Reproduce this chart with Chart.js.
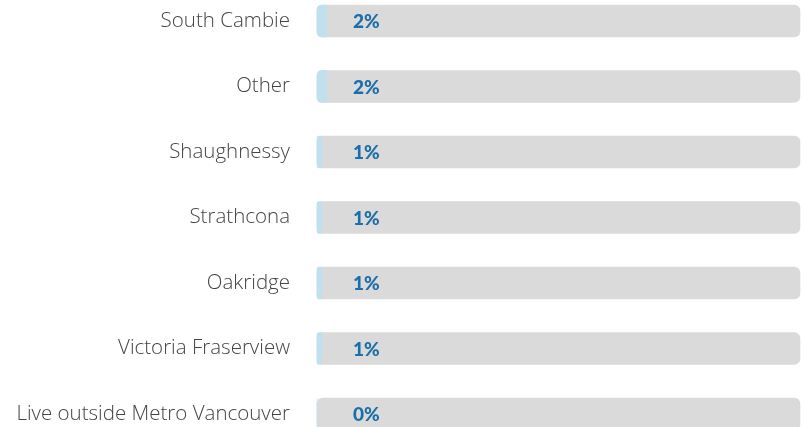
<!DOCTYPE html>
<html>
<head>
<meta charset="utf-8">
<script src="https://cdn.jsdelivr.net/npm/chart.js@4/dist/chart.umd.min.js"></script>
<style>
  body { margin: 0; background: #fff; }
</style>
</head>
<body>
<canvas id="myChart" width="804" height="427"></canvas>
<script>
// neighbourhood shares (percent)
const labels = ['South Cambie', 'Other', 'Shaughnessy', 'Strathcona', 'Oakridge', 'Victoria Fraserview', 'Live outside Metro Vancouver'];
const values = [2, 2, 1, 1, 1, 1, 0];
const valueLabels = ['2%', '2%', '1%', '1%', '1%', '1%', '0%'];
const track = [100, 100, 100, 100, 100, 100, 100];

const valueText = {
  id: 'valueText',
  afterDatasetsDraw(chart) {
    const ctx = chart.ctx;
    const meta = chart.getDatasetMeta(0);
    ctx.save();
    ctx.font = '900 19px Lato, "Open Sans", sans-serif';
    ctx.fillStyle = '#1a6ea9';
    ctx.textBaseline = 'middle';
    ctx.textAlign = 'left';
    meta.data.forEach((bar, i) => {
      ctx.fillText(valueLabels[i], chart.chartArea.left + 36, bar.y + 1);
    });
    ctx.restore();
  }
};

const myChart = new Chart(document.getElementById('myChart'), {
  type: 'bar',
  data: {
    labels: labels,
    datasets: [
      {
        data: values,
        backgroundColor: '#bfe0ec',
        borderRadius: { topLeft: 6, bottomLeft: 6, topRight: 0, bottomRight: 0 },
        borderSkipped: false,
        barThickness: 32,
        grouped: false,
        clip: false
      },
      {
        data: track,
        backgroundColor: '#dadada',
        borderRadius: 6,
        borderSkipped: false,
        barThickness: 32,
        grouped: false,
        clip: false
      }
    ]
  },
  options: {
    responsive: false,
    animation: false,
    indexAxis: 'y',
    layout: { padding: { top: 21, bottom: 13, right: 4 } },
    plugins: {
      legend: { display: false },
      tooltip: { enabled: false }
    },
    scales: {
      x: {
        display: false,
        min: 0,
        max: 100
      },
      y: {
        offset: false,
        grid: { display: false },
        border: { display: false },
        ticks: {
          padding: 19,
          color: '#444444',
          font: { family: '"Open Sans", Lato, sans-serif', size: 20.5, weight: 300 }
        },
        afterFit(scale) {
          scale.width = 317;
          scale.paddingTop = 0;
          scale.paddingBottom = 0;
        }
      }
    }
  },
  plugins: [valueText]
});
</script>
</body>
</html>
